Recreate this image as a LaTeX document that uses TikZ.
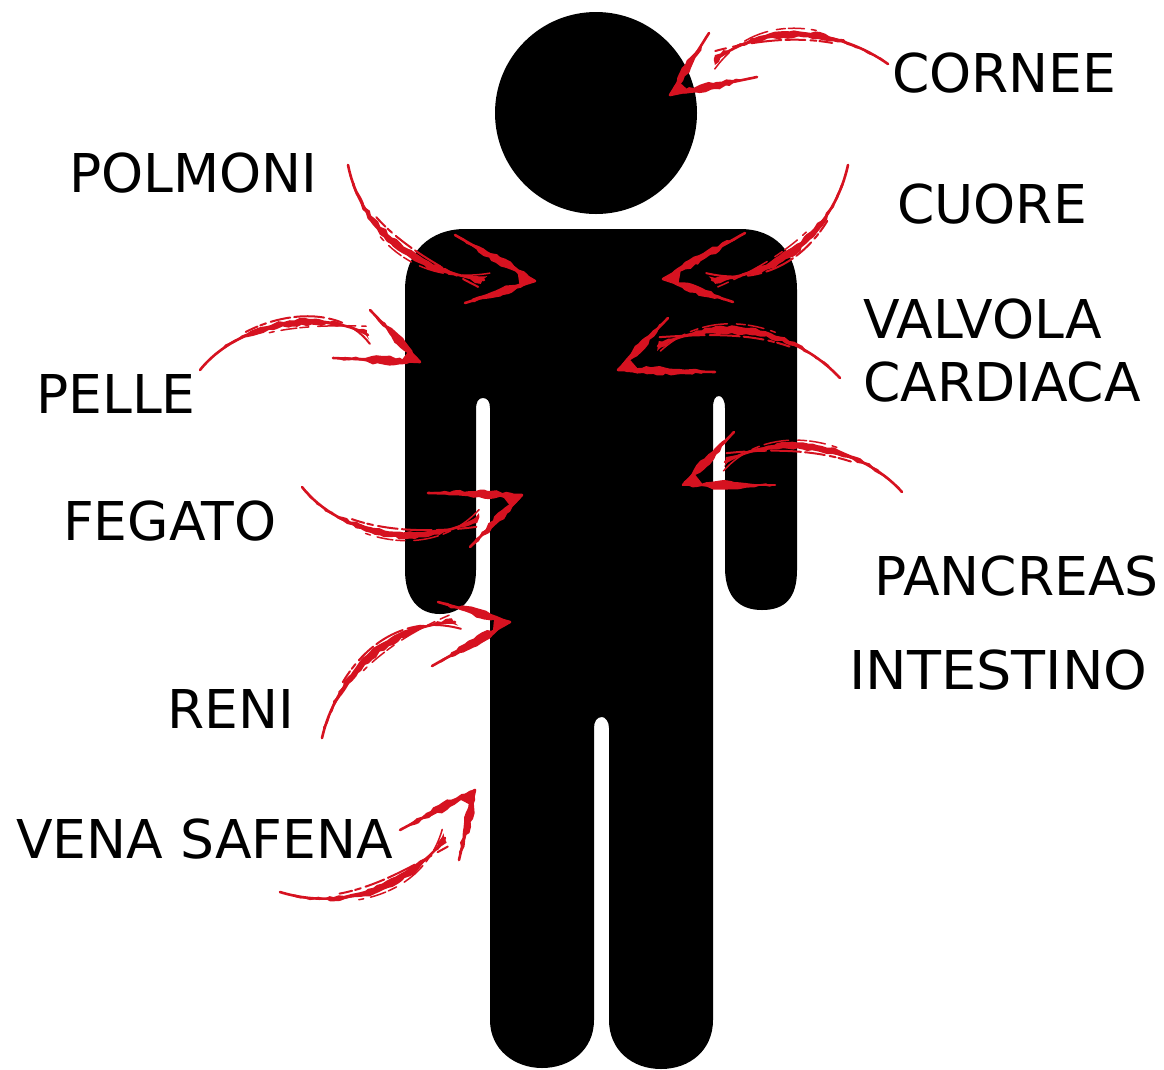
\documentclass[tikz,border=0pt]{standalone}
\usepackage{fontspec}
\setmainfont{DejaVu Sans}
\usetikzlibrary{calc,decorations.pathmorphing}
\definecolor{sred}{RGB}{214,18,32}
\tikzset{
  label/.style={font=\fontsize{53.5}{63}\selectfont,inner sep=0pt,text=black,anchor=base west,align=left},
  figure/.style={fill=black},
  rough/.style={fill=sred,decorate,decoration={random steps,segment length=5,amplitude=1.3}},
  core/.style={draw=sred,line width=2.6pt,line cap=round},
  scratch/.style={draw=sred,line width=2pt,line cap=round,dash pattern=on 0pt off 60pt on 13pt off 3pt on 6pt off 5pt on 20pt off 4pt on 30pt off 5pt on 14pt off 7pt on 40pt off 300pt},
  scratchb/.style={draw=sred,line width=1.5pt,line cap=round,dash pattern=on 0pt off 80pt on 5pt off 7pt on 16pt off 3pt on 9pt off 9pt on 25pt off 5pt on 8pt off 6pt on 30pt off 300pt},
}
\newcommand\sshaft[4]{%
  \draw[core] (#1) .. controls (#2) and (#3) .. (#4);
  \fill[rough] (#1) .. controls ($(#2)!2pt!90:(#4)$) and ($(#3)!11pt!90:(#4)$) .. ($(#4)!5pt!90:(#1)$)
     -- ($(#4)!5pt!-90:(#1)$) .. controls ($(#3)!11pt!-90:(#4)$) and ($(#2)!2pt!-90:(#4)$) .. (#1) -- cycle;
  \draw[scratch] (#1) .. controls ($(#2)!5pt!90:(#4)$) and ($(#3)!17pt!90:(#4)$) .. ($(#4)!9pt!90:(#1)$);
  \draw[scratchb] (#1) .. controls ($(#2)!5pt!-90:(#4)$) and ($(#3)!17pt!-90:(#4)$) .. ($(#4)!9pt!-90:(#1)$);
}
\newcommand\sbarb[2]{%
  \draw[core] (#1) -- (#2);
  \fill[rough] (#1) -- ($(#2)!.4!(#1)!4.5pt!90:(#1)$) -- (#2) -- ($(#2)!.4!(#1)!4.5pt!-90:(#1)$) -- cycle;
}
\newcommand\scratcharrow[8]{%
  \coordinate (#1-s) at #2;
  \coordinate (#1-a) at #3;
  \coordinate (#1-b) at #4;
  \coordinate (#1-e) at #5;
  \coordinate (#1-t) at #6;
  \coordinate (#1-p) at #7;
  \coordinate (#1-q) at #8;
  \sshaft{#1-s}{#1-a}{#1-b}{#1-e}
  \sbarb{#1-p}{#1-t}
  \sbarb{#1-q}{#1-t}
  \fill[sred] (#1-t) -- ($(#1-t)!.22!(#1-p)$) -- ($(#1-t)!.22!(#1-q)$) -- cycle;
}
\begin{document}
\begin{tikzpicture}[x=1pt,y=-1pt]
\pgfmathsetseed{7}
\useasboundingbox (0,0) rectangle (1164,1069);
\fill[white] (0,0) rectangle (1164,1069);
% figure
\fill[figure] (596,113) circle[radius=101];
\fill[figure] (465,229) -- (740,229) .. controls (775,229) and (797,252) .. (797,290)
  -- (797,570) .. controls (797,598) and (785,610) .. (762,610)
  .. controls (740,610) and (726,598) .. (725,570)
  -- (725,408) .. controls (725,400) and (722,396) .. (719,396)
  .. controls (715,396) and (713,400) .. (713,408)
  -- (713,1020) .. controls (713,1050) and (690,1069) .. (661,1069)
  .. controls (632,1069) and (609,1050) .. (609,1020)
  -- (609,728) .. controls (609,721) and (605,717) .. (602,717)
  .. controls (597,717) and (594,721) .. (594,728)
  -- (594,1020) .. controls (594,1050) and (570,1068) .. (542,1068)
  .. controls (515,1068) and (490,1050) .. (490,1020)
  -- (490,408) .. controls (490,401) and (487,398) .. (483,398)
  .. controls (478,398) and (476,402) .. (476,410)
  -- (476,570) .. controls (476,600) and (460,614) .. (440,614)
  .. controls (418,614) and (405,598) .. (405,570)
  -- (405,290) .. controls (405,252) and (430,229) .. (465,229) -- cycle;
% arrows
\scratcharrow{cornee}{(888,64)}{(840,30)}{(770,20)}{(715,60)}{(670,95)}{(709,33)}{(757,77)}
\scratcharrow{polmoni}{(348,165)}{(360,225)}{(410,270)}{(484,280)}{(535,281)}{(455,235)}{(465,303)}
\scratcharrow{cuore}{(848,165)}{(835,225)}{(785,275)}{(712,280)}{(663,279)}{(745,233)}{(733,302)}
\scratcharrow{valvola}{(840,378)}{(790,325)}{(715,318)}{(658,346)}{(618,370)}{(668,318)}{(715,372)}
\scratcharrow{pancreas}{(902,492)}{(860,445)}{(780,432)}{(725,462)}{(683,485)}{(734,432)}{(775,485)}
\scratcharrow{pelle}{(200,370)}{(240,320)}{(325,310)}{(368,335)}{(420,362)}{(370,310)}{(333,358)}
\scratcharrow{fegato}{(302,487)}{(340,535)}{(420,550)}{(478,518)}{(522,495)}{(428,493)}{(470,547)}
\scratcharrow{reni}{(322,738)}{(335,680)}{(385,625)}{(455,622)}{(510,622)}{(438,602)}{(432,666)}
\scratcharrow{vena}{(280,892)}{(345,912)}{(410,885)}{(445,838)}{(475,790)}{(400,830)}{(459,860)}
% labels
\node[label] (cornee-l) at (892,92) {CORNEE};
\node[label] (polmoni-l) at (69,192) {POLMONI};
\node[label] (cuore-l) at (897,223) {CUORE};
\node[label,anchor=north west] (valvola-l) at (863,299) {VALVOLA\\CARDIACA};
\node[label] (pelle-l) at (36,413) {PELLE};
\node[label] (fegato-l) at (63,540) {FEGATO};
\node[label] (pancreas-l) at (874,595) {PANCREAS};
\node[label,xscale=1.04] (intestino-l) at (849,689) {INTESTINO};
\node[label] (reni-l) at (167,728) {RENI};
\node[label] (vena-l) at (16,858) {VENA SAFENA};
\end{tikzpicture}
\end{document}
